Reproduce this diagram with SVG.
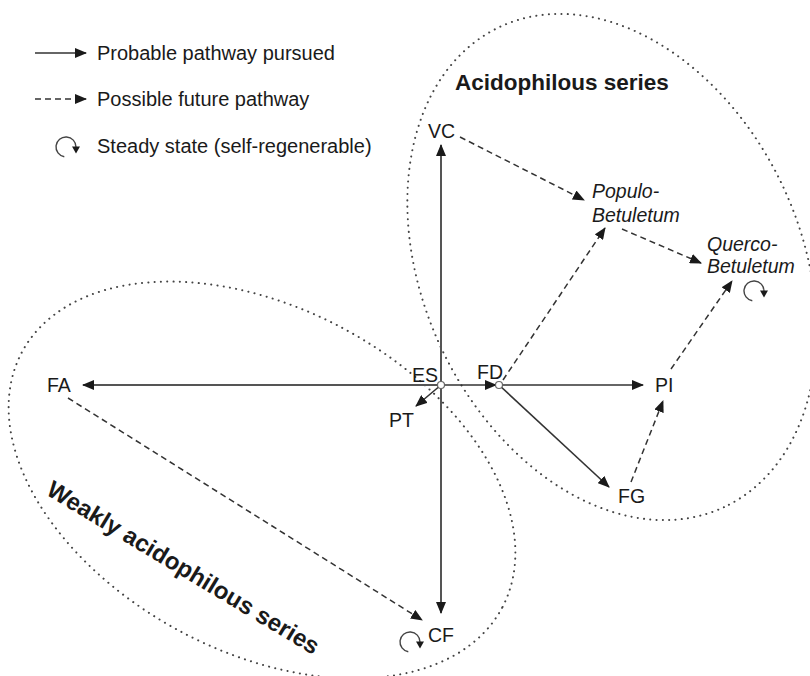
<svg xmlns="http://www.w3.org/2000/svg" xmlns:xlink="http://www.w3.org/1999/xlink" width="810" height="676" viewBox="0 0 810 676">
  <style>
    text { font-family: "Liberation Sans", Arial, sans-serif; fill: #1a1a1a; }
    .lbl { font-size: 19.5px; }
    .it { font-size: 19.5px; font-style: italic; }
    .leg { font-size: 20px; }
    .title { font-size: 22.5px; font-weight: bold; }
    .solid { stroke: #333; stroke-width: 1.6; fill: none; marker-end: url(#ah); }
    .axis { stroke: #555; stroke-width: 2; fill: none; marker-end: url(#ah); }
    .dash { stroke: #333; stroke-width: 1.5; fill: none; stroke-dasharray: 6 4; marker-end: url(#ah); }
    .zone { fill: none; stroke: #444; stroke-width: 2; stroke-dasharray: 0.1 6.2; stroke-linecap: round; }
    .hub { fill: #fff; stroke: #666; stroke-width: 1.2; }
  </style>
  <defs>
    <marker id="ah" viewBox="0 0 12 10" refX="11" refY="5" markerWidth="12" markerHeight="10" markerUnits="userSpaceOnUse" orient="auto">
      <path d="M0,0 L12,5 L0,10 z" fill="#1a1a1a"/>
    </marker>
    <!-- clockwise self-regeneration symbol -->
    <g id="steady">
      <path d="M-1.7,9.8 A10,10 0 1 1 10,0" fill="none" stroke="#444" stroke-width="1.4"/>
      <polygon points="6,-0.5 14,-0.5 10,6.5" fill="#1a1a1a"/>
    </g>
  </defs>

  <!-- background -->
  <rect width="810" height="676" fill="#fff"/>

  <!-- series envelopes -->
  <g id="zones">
    <ellipse class="zone" cx="0" cy="0" rx="265" ry="189" transform="translate(612 267) rotate(65)"/>
    <ellipse class="zone" cx="0" cy="0" rx="272" ry="172" transform="translate(262 480) rotate(28)"/>
  </g>

  <!-- legend -->
  <g id="legend">
    <line x1="35" y1="53" x2="86" y2="53" class="solid"/>
    <text class="leg" x="97" y="60">Probable pathway pursued</text>
    <line x1="35" y1="99" x2="86" y2="99" class="dash" stroke-dasharray="5 3.5"/>
    <text class="leg" x="97" y="106">Possible future pathway</text>
    <use xlink:href="#steady" x="66" y="147"/>
    <text class="leg" x="97" y="153">Steady state (self-regenerable)</text>
  </g>

  <!-- connectors -->
  <g id="connectors">
    <line x1="441" y1="385" x2="441" y2="145" class="axis"/>
    <line x1="441" y1="385" x2="441" y2="613" class="axis"/>
    <line x1="441" y1="385" x2="83" y2="385" class="axis"/>
    <line x1="441" y1="385" x2="496" y2="385" class="solid"/>
    <line x1="499" y1="385" x2="643" y2="385" class="solid"/>
    <line x1="441" y1="385" x2="416" y2="406" class="solid"/>
    <line x1="499" y1="385" x2="609" y2="487" class="solid"/>
    <line x1="68" y1="398" x2="422" y2="620" class="dash"/>
    <line x1="460" y1="137" x2="584" y2="200" class="dash"/>
    <line x1="503" y1="380" x2="605" y2="228" class="dash"/>
    <line x1="622" y1="229" x2="701" y2="263" class="dash"/>
    <line x1="631" y1="482" x2="663" y2="401" class="dash"/>
    <line x1="671" y1="369" x2="732" y2="281" class="dash"/>
  </g>

  <!-- nodes -->
  <g id="node-ES">
    <circle class="hub" cx="441" cy="385" r="3.5"/>
    <text class="lbl" x="412" y="382">ES</text>
  </g>
  <g id="node-FD">
    <circle class="hub" cx="499" cy="385" r="3.5"/>
    <text class="lbl" x="477" y="379">FD</text>
  </g>
  <g id="node-FA"><text class="lbl" x="47" y="392">FA</text></g>
  <g id="node-PT"><text class="lbl" x="389" y="427">PT</text></g>
  <g id="node-PI"><text class="lbl" x="655" y="392">PI</text></g>
  <g id="node-FG"><text class="lbl" x="618" y="503">FG</text></g>
  <g id="node-VC"><text class="lbl" x="428" y="138">VC</text></g>
  <g id="node-CF">
    <text class="lbl" x="428" y="642">CF</text>
    <use xlink:href="#steady" x="410" y="642"/>
  </g>
  <g id="node-PopuloBetuletum">
    <text class="it" x="592" y="198">Populo-</text>
    <text class="it" x="592" y="222">Betuletum</text>
  </g>
  <g id="node-QuercoBetuletum">
    <text class="it" x="707" y="251">Querco-</text>
    <text class="it" x="707" y="273">Betuletum</text>
    <use xlink:href="#steady" x="754" y="291"/>
  </g>

  <!-- series titles -->
  <g id="titles">
    <text class="title" x="455" y="90">Acidophilous series</text>
    <text class="title" style="font-size:24px" transform="translate(45 494) rotate(31)">Weakly acidophilous series</text>
  </g>
</svg>
